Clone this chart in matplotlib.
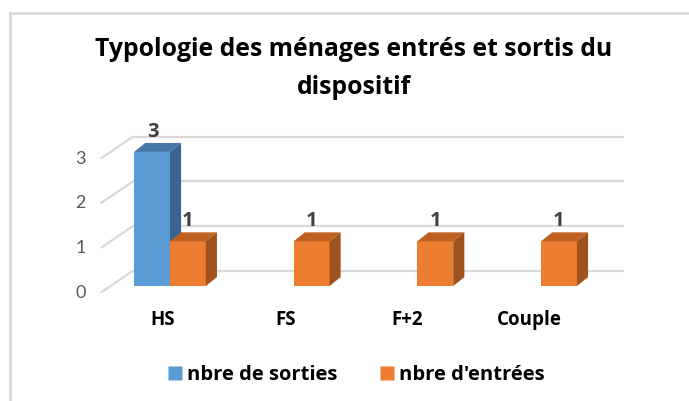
import numpy as np
import matplotlib.pyplot as plt
from matplotlib.patches import Polygon
from matplotlib.lines import Line2D

plt.rcParams['font.family'] = ['Open Sans', 'DejaVu Sans']

# Data
categories = ['HS', 'FS', 'F+2', 'Couple']
sorties = [3, 0, 0, 0]
entrees = [1, 1, 1, 1]
series_names = ['nbre de sorties', "nbre d'entrées"]
yticks = [0, 1, 2, 3]

# Colours (front, top, side)
blue = ('#5B9BD5', '#4677A8', '#3A6591')
orange = ('#ED7D31', '#BF5F20', '#A0521E')

bar_w = 0.29
dx, dy = 0.09, 0.2          # depth of bars
bx, by = 0.30, 0.34         # back wall offset
wx, wy = -0.26, -0.49       # side wall diagonal

fig = plt.figure(figsize=(6.89, 4.01), dpi=100)
ax = fig.add_axes([60 / 689, 101 / 401, 580 / 689, 180 / 401])
ax.set_xlim(-0.889, 3.80)
ax.set_ylim(-0.313, 3.714)
ax.axis('off')

# gridlines on back wall + diagonal on side wall
x_back0 = -bx
x_back1 = 3.67
for v in yticks:
    yb = v + by
    ax.plot([x_back0, x_back1], [yb, yb], color='#D9D9D9', lw=1.6, zorder=1,
            solid_capstyle='butt')
    ax.plot([x_back0, x_back0 + wx], [yb, yb + wy], color='#D9D9D9', lw=1.6,
            zorder=1, solid_capstyle='butt')
    ax.text(x_back0 + wx - 0.12, yb + wy, str(v), ha='right', va='center',
            fontsize=13, color='#595959', family=['Lato', 'DejaVu Sans'])


def bar3d(x0, h, cols):
    x1 = x0 + bar_w
    front, top, side = cols
    ax.add_patch(Polygon([(x0, 0), (x1, 0), (x1, h), (x0, h)], closed=True,
                         facecolor=front, edgecolor='none', zorder=3))
    ax.add_patch(Polygon([(x0, h), (x1, h), (x1 + dx, h + dy), (x0 + dx, h + dy)],
                         closed=True, facecolor=top, edgecolor='none', zorder=3))
    ax.add_patch(Polygon([(x1, 0), (x1, h), (x1 + dx, h + dy), (x1 + dx, dy)],
                         closed=True, facecolor=side, edgecolor='none', zorder=3))


x = np.arange(len(categories))
for i in x:
    if sorties[i] > 0:
        bar3d(i - bar_w, sorties[i], blue)
        ax.text(i - bar_w / 2 + 0.01, sorties[i] + dy + 0.02, str(sorties[i]),
                ha='center', va='bottom', fontsize=14.5, fontweight='bold',
                color='#404040', zorder=5)
for i in x:
    if entrees[i] > 0:
        bar3d(i, entrees[i], orange)
        ax.text(i + bar_w / 2, entrees[i] + dy + 0.02, str(entrees[i]),
                ha='center', va='bottom', fontsize=14.5, fontweight='bold',
                color='#404040', zorder=5)

for i, c in enumerate(categories):
    ax.text(i - 0.055 - 0.013 * i, -0.77, c, ha='center', va='center',
            fontsize=13.5, fontweight='bold', color='black')

# title
fig.text(353.5 / 689, 1 - 50 / 401, 'Typologie des ménages entrés et sortis du',
         ha='center', va='center', fontsize=17.8, fontweight='bold')
fig.text(353.5 / 689, 1 - 88 / 401, 'dispositif',
         ha='center', va='center', fontsize=17.8, fontweight='bold')

# legend
handles = [Line2D([], [], marker='s', linestyle='none', markersize=10,
                  markerfacecolor=blue[0], markeredgecolor='none'),
           Line2D([], [], marker='s', linestyle='none', markersize=10,
                  markerfacecolor=orange[0], markeredgecolor='none')]
fig.legend(handles, series_names, loc='center', bbox_to_anchor=(355 / 689, 1 - 375 / 401),
           ncol=2, frameon=False, prop={'weight': 'bold', 'size': 14.5},
           handletextpad=0.15, columnspacing=2.0, handlelength=0.9)

# chart border (only top and left visible)
fig.add_artist(Line2D([9.5 / 689, 9.5 / 689], [0, 1 - 13 / 401], color='#D9D9D9', lw=2))
fig.add_artist(Line2D([9.5 / 689, 1], [1 - 13 / 401, 1 - 13 / 401], color='#D9D9D9', lw=2))

fig.savefig('out.png', dpi=100)
